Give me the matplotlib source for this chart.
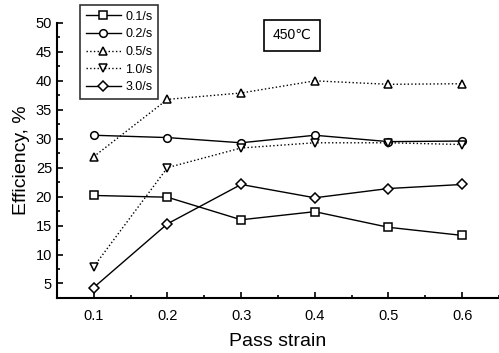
import matplotlib
matplotlib.use("Agg")
import matplotlib.pyplot as plt
from matplotlib.ticker import MultipleLocator

plt.rcParams['font.family'] = ['Liberation Sans', 'DejaVu Sans']

strain = [0.1, 0.2, 0.3, 0.4, 0.5, 0.6]
labels = ["0.1/s", "0.2/s", "0.5/s", "1.0/s", "3.0/s"]
eff_01 = [20.2, 19.9, 16.0, 17.4, 14.7, 13.3]
eff_02 = [30.6, 30.2, 29.3, 30.6, 29.5, 29.6]
eff_05 = [26.9, 36.8, 37.9, 40.0, 39.4, 39.5]
eff_10 = [7.9, 25.0, 28.4, 29.3, 29.3, 29.0]
eff_30 = [4.3, 15.3, 22.1, 19.8, 21.4, 22.1]

series = [eff_01, eff_02, eff_05, eff_10, eff_30]
markers = ['s', 'o', '^', 'v', 'D']
styles = ['-', '-', ':', ':', '-']
msizes = [5.5, 5.5, 6, 6, 5]

fig = plt.figure(figsize=(4.99, 3.53), dpi=100)
ax = fig.add_axes([0.114, 0.156, 0.886, 0.779])

for y, lab, m, ls, ms in zip(series, labels, markers, styles, msizes):
    ax.plot(strain, y, linestyle=ls, color='black', lw=1.0, marker=m,
            markersize=ms, markerfacecolor='white', markeredgecolor='black',
            markeredgewidth=1.1, label=lab)

ax.set_xlim(0.05, 0.65)
ax.set_ylim(2.5, 50)
ax.xaxis.set_minor_locator(MultipleLocator(0.05))
ax.yaxis.set_minor_locator(MultipleLocator(2.5))
ax.set_xticks(strain)
ax.set_xticklabels(["0.1", "0.2", "0.3", "0.4", "0.5", "0.6"])
ax.set_yticks(range(5, 51, 5))

ax.spines['top'].set_visible(False)
ax.spines['right'].set_visible(False)
for s in ['left', 'bottom']:
    ax.spines[s].set_linewidth(1.5)
ax.tick_params(which='both', direction='in', width=1.2, labelsize=10.5)
ax.tick_params(which='major', length=4)
ax.tick_params(which='minor', length=2.5)
ax.tick_params(axis='x', pad=8)

ax.set_xlabel("Pass strain", fontsize=14, labelpad=7)
ax.set_ylabel("Efficiency, %", fontsize=14, labelpad=4)

leg = ax.legend(loc='upper left', bbox_to_anchor=(0.052, 1.065), fontsize=9,
                frameon=True, fancybox=False, edgecolor='black',
                handlelength=2.8, labelspacing=0.45, borderpad=0.45,
                handletextpad=0.4, borderaxespad=0)
leg.get_frame().set_linewidth(1.2)

ax.text(0.532, 0.955, "450\u2103", transform=ax.transAxes, fontsize=10,
        ha='center', va='center',
        bbox=dict(boxstyle='square,pad=0.6', facecolor='white',
                  edgecolor='black', linewidth=1.2))

fig.savefig("out.png", dpi=100)
